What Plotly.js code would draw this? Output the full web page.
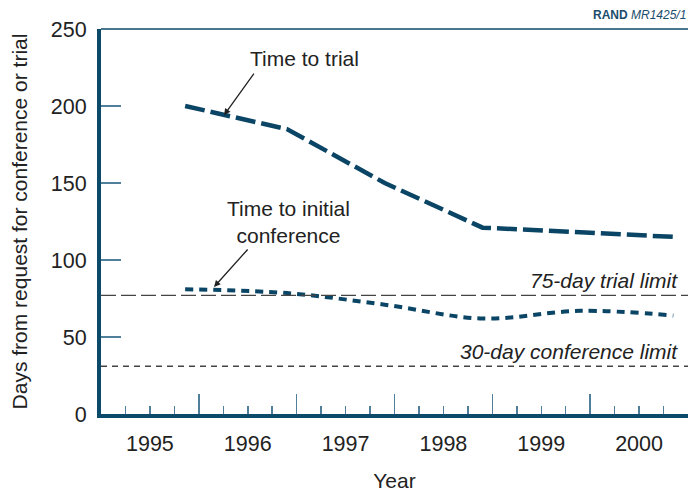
<!DOCTYPE html>
<html>
<head>
<meta charset="utf-8">
<script src="https://cdn.plot.ly/plotly-3.0.1.min.js"></script>
<style>html,body{margin:0;padding:0;background:#fff;}#chart{width:688px;height:492px;}</style>
</head>
<body>
<div id="chart"></div>
<script>
// Data
const years = [1995, 1996, 1997, 1998, 1999, 2000];
const yearLabels = ['1995', '1996', '1997', '1998', '1999', '2000'];
const obsX = [1995.36, 1996.4, 1997.4, 1998.4, 1999.4, 2000.35];
const timeToTrial = [200, 185, 150, 121, 118, 115];
const timeToConference = [81, 78.5, 71, 62, 67, 64];
const trialLimit = 77;
const conferenceLimit = 31;
const limitSpan = [1994.5, 2000.5];
const yearBoundaries = [1995.5, 1996.5, 1997.5, 1998.5, 1999.5];
const yTicks = [0, 50, 100, 150, 200, 250];

const navy = '#0b4565';
const axisNavy = '#0c4a6a';
const tickBlue = '#4f7f9b';
const FONT = 'Liberation Sans, Arial, Helvetica, sans-serif';

const traces = [
  {x: limitSpan, y: [trialLimit, trialLimit], xaxis: 'x2', yaxis: 'y', mode: 'lines',
   line: {color: '#444', width: 1.3, dash: '15px,5px'}, hoverinfo: 'skip'},
  {x: limitSpan, y: [conferenceLimit, conferenceLimit], xaxis: 'x2', yaxis: 'y', mode: 'lines',
   line: {color: '#444', width: 1.3, dash: '6px,5px'}, hoverinfo: 'skip'},
  {x: obsX, y: timeToTrial, mode: 'lines', name: 'Time to trial',
   line: {color: navy, width: 4.5, dash: '20px,6px'}},
  {x: obsX, y: timeToConference, mode: 'lines', name: 'Time to initial conference',
   line: {color: navy, width: 4, dash: '8px,6px', shape: 'spline', smoothing: 1}}
];

const layout = {
  width: 688, height: 492,
  margin: {l: 101, r: 0, t: 29, b: 78},
  paper_bgcolor: '#fff', plot_bgcolor: '#fff',
  showlegend: false,
  font: {family: FONT, size: 21, color: '#222'},
  xaxis: {
    range: [1994.5, 2000.5], tickmode: 'array', tickvals: years, ticktext: yearLabels,
    ticks: '', showgrid: false, zeroline: false, showline: true, linewidth: 3.5, linecolor: axisNavy,
    tickfont: {size: 21.5, color: '#222', family: FONT}, ticklabelstandoff: 8,
    title: {text: 'Year', font: {size: 21, color: '#222', family: FONT}, standoff: 20}
  },
  xaxis2: {
    overlaying: 'x', matches: 'x', anchor: 'y', side: 'bottom', range: [1994.5, 2000.5],
    tickmode: 'array', tickvals: yearBoundaries, ticks: 'inside', ticklen: 20, tickwidth: 1.5, tickcolor: tickBlue,
    showticklabels: false, showgrid: false, zeroline: false, showline: false,
    minor: {tickmode: 'linear', tick0: 1994.5, dtick: 0.25, ticks: 'inside', ticklen: 8, tickwidth: 1.5, tickcolor: tickBlue, showgrid: false}
  },
  yaxis: {
    range: [0, 250], tickmode: 'array', tickvals: yTicks,
    ticks: 'inside', ticklen: 20, tickwidth: 1.5, tickcolor: tickBlue,
    showgrid: false, zeroline: false, showline: true, linewidth: 4, linecolor: axisNavy,
    tickfont: {size: 21.5, color: '#222', family: FONT}, ticklabelstandoff: 6,
    title: {text: 'Days from request for conference or trial', font: {size: 21, color: '#222', family: FONT}, standoff: 18}
  },
  shapes: [
    {type: 'line', xref: 'paper', yref: 'paper', x0: 0, x1: 1, y0: 1, y1: 1, line: {color: axisNavy, width: 1.5}}
  ],
  annotations: [
    {x: 1996.575, y: 231, xref: 'x', yref: 'y', text: 'Time to trial', showarrow: false,
     xanchor: 'center', yanchor: 'middle', font: {size: 21, color: '#222', family: FONT}},
    {x: 1995.757, y: 194, xref: 'x', yref: 'y', text: '', showarrow: true, arrowhead: 2, arrowsize: 1, arrowwidth: 1.3,
     arrowcolor: '#222', ax: 31, ay: -43, standoff: 0},
    {x: 1996.42, y: 125, xref: 'x', yref: 'y', text: 'Time to initial<br>conference', showarrow: false,
     xanchor: 'center', yanchor: 'middle', font: {size: 21, color: '#222', family: FONT}},
    {x: 1995.655, y: 82.5, xref: 'x', yref: 'y', text: '', showarrow: true, arrowhead: 2, arrowsize: 1, arrowwidth: 1.3,
     arrowcolor: '#222', ax: 35, ay: -39, standoff: 0},
    {x: 2000.418, y: 86.4, xref: 'x', yref: 'y', text: '<i>75-day trial limit</i>', showarrow: false,
     xanchor: 'right', yanchor: 'middle', font: {size: 21, color: '#222', family: FONT}},
    {x: 2000.418, y: 40.3, xref: 'x', yref: 'y', text: '<i>30-day conference limit</i>', showarrow: false,
     xanchor: 'right', yanchor: 'middle', font: {size: 21, color: '#222', family: FONT}},
    {x: 1, y: 1.036, xref: 'paper', yref: 'paper', xanchor: 'right', yanchor: 'middle', showarrow: false,
     text: '<b>RAND</b> <i>MR1425/1</i>', font: {size: 12, color: '#1b4c6c', family: FONT}}
  ]
};

Plotly.newPlot('chart', traces, layout, {displayModeBar: false, staticPlot: true});
</script>
</body>
</html>
